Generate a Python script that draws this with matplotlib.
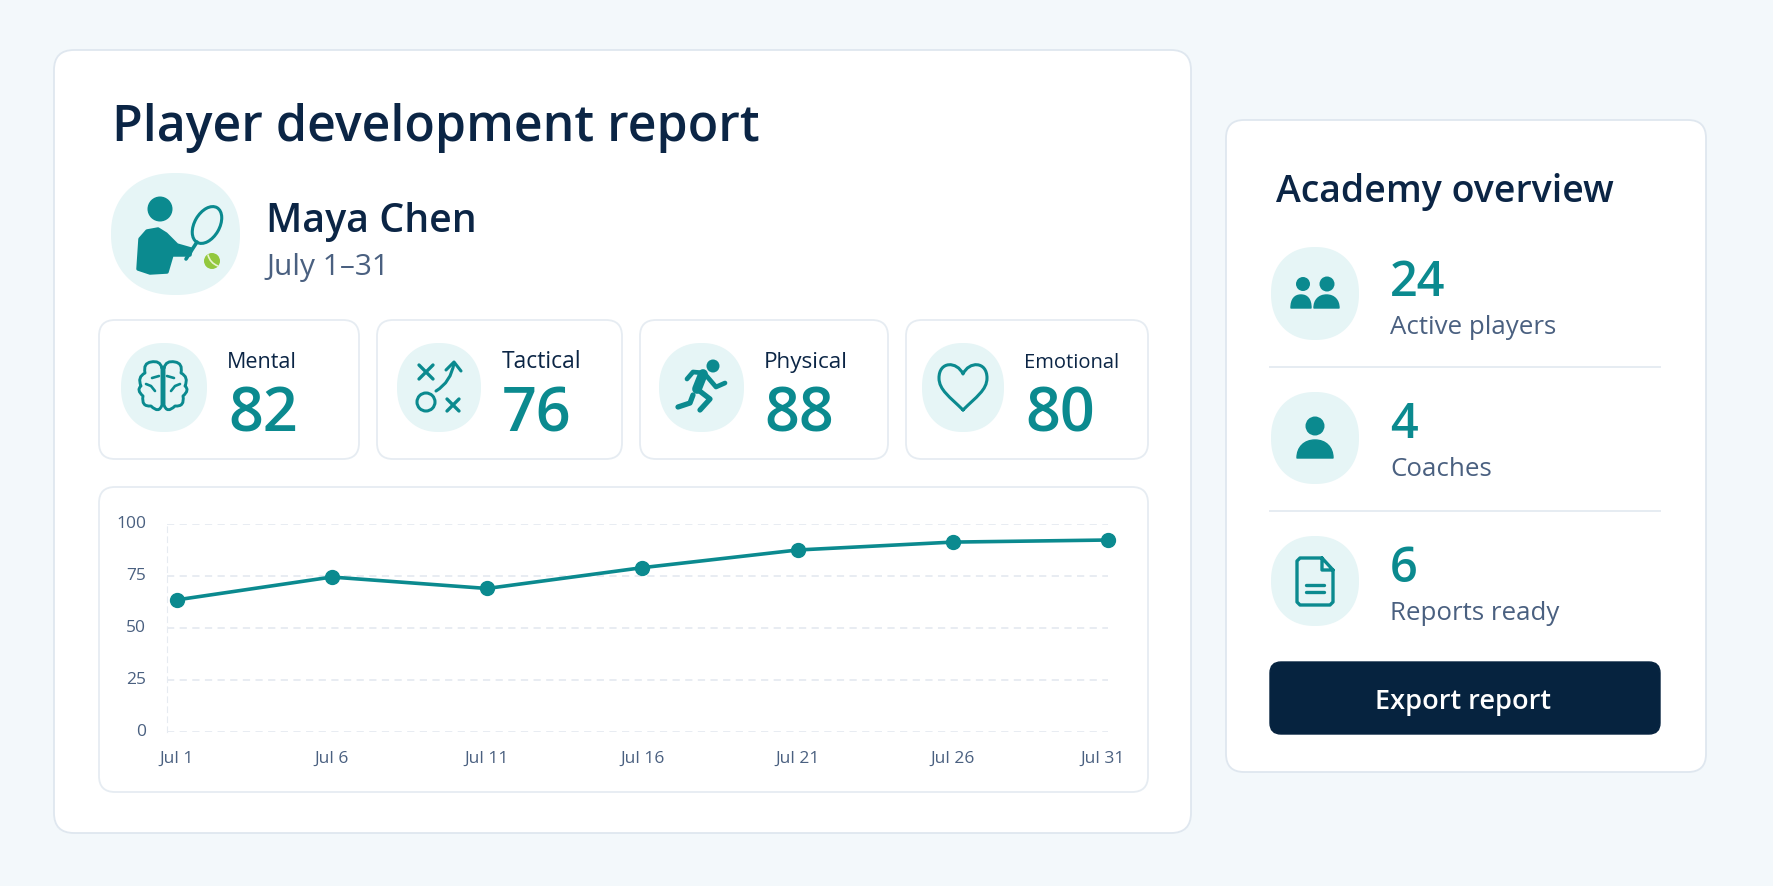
# player development report card, drawn in pixel coords on a backdrop axes
import numpy as np
import matplotlib
matplotlib.use('Agg')
import matplotlib.pyplot as plt
from matplotlib.patches import FancyBboxPatch, Circle, Ellipse, Polygon, PathPatch
from matplotlib.path import Path
from matplotlib.transforms import ScaledTranslation

plt.rcParams['font.family'] = ['Open Sans', 'DejaVu Sans']

# data
days = [1, 6, 11, 16, 21, 26, 31]
day_labels = ['Jul 1', 'Jul 6', 'Jul 11', 'Jul 16', 'Jul 21', 'Jul 26', 'Jul 31']
scores = [63.5, 74.5, 69, 79, 87.5, 91.3, 92.3]
y_ticks = [0, 25, 50, 75, 100]
skill_names = ['Mental', 'Tactical', 'Physical', 'Emotional']
skill_scores = [82, 76, 88, 80]
overview_values = [24, 4, 6]
overview_names = ['Active players', 'Coaches', 'Reports ready']

W, H = 1774, 887
BG = '#f3f8fb'
BORDER = '#dfe7ef'
INNER = '#e6ecf2'
TEAL = '#0b8a8f'
NAVY = '#0b2545'
SLATE = '#4a6080'
BLOB = '#e6f5f6'

fig = plt.figure(figsize=(W / 100, H / 100), dpi=100, facecolor=BG)
bg = fig.add_axes([0, 0, 1, 1])
bg.set_xlim(0, W)
bg.set_ylim(H, 0)
bg.axis('off')


def card(x0, y0, x1, y1, r, fc='white', ec=INNER, lw=1.3):
    bg.add_patch(FancyBboxPatch((x0, y0), x1 - x0, y1 - y0, boxstyle='round,pad=0,rounding_size=%d' % r,
                                fc=fc, ec=ec, lw=lw))


def blob(x0, y0, x1, y1):
    # squircle behind the icons
    t = np.linspace(0, 2 * np.pi, 200)
    cx, cy = (x0 + x1) / 2, (y0 + y1) / 2
    xs = cx + (x1 - x0) / 2 * np.sign(np.cos(t)) * np.abs(np.cos(t)) ** (2 / 2.2)
    ys = cy + (y1 - y0) / 2 * np.sign(np.sin(t)) * np.abs(np.sin(t)) ** (2 / 2.2)
    bg.add_patch(Polygon(np.column_stack([xs, ys]), fc=BLOB, ec='none'))


def stroke(pts, lw=2.0, color=TEAL):
    xs, ys = zip(*pts)
    bg.plot(xs, ys, color=color, lw=lw, solid_capstyle='round', solid_joinstyle='round')


def curve(verts, codes, lw=2.0, fc='none', ec=TEAL):
    bg.add_patch(PathPatch(Path(verts, codes), fc=fc, ec=ec, lw=lw, capstyle='round', joinstyle='round'))


def dome(x0, x1, top, bot):
    k = 0.2 * (x1 - x0)
    v = [(x0, bot), (x0, top + k), (x0 + k, top), ((x0 + x1) / 2, top), (x1 - k, top), (x1, top + k), (x1, bot), (x0, bot)]
    c = [Path.MOVETO] + [Path.CURVE4] * 6 + [Path.CLOSEPOLY]
    curve(v, c, lw=1, fc=TEAL)


def label(x, y, s, size, color=NAVY, weight='normal', ha='left'):
    bg.text(x, y, s, fontsize=size, color=color, fontweight=weight, ha=ha, va='baseline')


def brain(cx, cy):
    right = [(1, -19), (3, -27), (12, -25), (20, -24), (18, -14), (26, -10), (22, -1),
             (27, 3), (20, 9), (22, 20), (12, 19), (4, 27), (1, 18), (1, 0), (1, -19)]
    for sgn in (1, -1):
        v = [(cx + sgn * a, cy + b) for a, b in right]
        c = [Path.MOVETO] + [Path.CURVE3] * 14
        curve(v, c, lw=2.1)
        stroke([(cx + sgn * 4, cy - 11), (cx + sgn * 11, cy - 9)], 1.9)
        stroke([(cx + sgn * 8, cy + 4), (cx + sgn * 12, cy - 1), (cx + sgn * 17, cy - 3)], 1.9)


def tactics():
    for mx, my, h in [(426, 373, 7), (453, 406, 6)]:
        stroke([(mx - h, my - h), (mx + h, my + h)], 2.4)
        stroke([(mx - h, my + h), (mx + h, my - h)], 2.4)
    bg.add_patch(Circle((426, 403), 9, fc='none', ec=TEAL, lw=2.2))
    curve([(436, 392), (451, 383), (454, 364)], [Path.MOVETO, Path.CURVE3, Path.CURVE3], lw=2.2)
    stroke([(446, 371), (454, 363), (461, 372)], 2.2)


def runner():
    bg.add_patch(Circle((713, 367), 6.5, fc=TEAL, ec='none'))
    stroke([(703, 375), (697, 390)], 7.0)
    stroke([(687, 380), (693, 373), (704, 374), (716, 388), (725, 384)], 3.4)
    stroke([(697, 390), (710, 400), (700, 411)], 3.8)
    stroke([(693, 396), (690, 404), (678, 408)], 3.8)


def heart(cx):
    v = [(cx, 411), (cx - 13, 398), (cx - 24, 391), (cx - 24, 379), (cx - 24, 362), (cx - 6, 362), (cx, 375),
         (cx + 6, 362), (cx + 24, 362), (cx + 24, 379), (cx + 24, 391), (cx + 13, 398), (cx, 411)]
    c = [Path.MOVETO] + [Path.CURVE4] * 12
    curve(v, c, lw=2.2)


# outer cards
card(54, 51, 1191, 834, 20, ec=BORDER)
card(1226, 121, 1706, 773, 18, ec=BORDER)

label(112, 141, 'Player development report', 36, weight=600)

# avatar with racket
blob(111, 174, 240, 296)
bg.add_patch(Circle((160, 210), 12.5, fc=TEAL, ec='none'))
bg.add_patch(Polygon([(138, 270), (140, 240), (147, 232), (158, 230), (166, 235), (177, 246), (191, 250), (190, 256),
                      (172, 256), (167, 273), (150, 274)], fc=TEAL, ec=TEAL, lw=2.5, closed=True, joinstyle='round'))
bg.add_patch(Ellipse((207, 226), 25, 40, angle=30, fc='none', ec=TEAL, lw=2.2))
stroke([(197, 243), (186, 260)], 2.6)
bg.add_patch(Circle((212, 262), 8, fc='#93c83e', ec='none'))
curve([(208, 256), (210, 264), (218, 267)], [Path.MOVETO, Path.CURVE3, Path.CURVE3], lw=1.2, ec='#e8f4d0')
label(266, 232, 'Maya Chen', 28.3, weight=600)
label(266, 275, 'July 1–31', 21.5, color=SLATE)

# stat cards
cards_x = [(99, 359), (377, 622), (640, 888), (906, 1148)]
blobs_x = [(121, 207), (397, 481), (659, 744), (922, 1004)]
names_x = [227, 502, 764, 1024]
name_sizes = [15.5, 16.5, 16.2, 14.5]
nums_x = [228, 502, 764, 1025]
for i in range(4):
    card(cards_x[i][0], 321, cards_x[i][1], 460, 16)
    blob(blobs_x[i][0], 344, blobs_x[i][1], 433)
    label(names_x[i], 368, skill_names[i], name_sizes[i])
    label(nums_x[i], 432, str(skill_scores[i]), 44, color=TEAL, weight=600)
brain(163, 388)
tactics()
runner()
heart(963)

# chart card
card(99, 488, 1148, 793, 16)
L, R, T, B = 167, 1108, 525, 733
ax = fig.add_axes([L / W, 1 - B / H, (R - L) / W, (B - T) / H])
ax.patch.set_alpha(0)
ax.set_xlim(1 - 9.5 / ((R - 176.5) / 30), 31)
ax.set_ylim(0, 100)
for s in ['top', 'right', 'bottom']:
    ax.spines[s].set_visible(False)
ax.spines['left'].set_color('#e6ebf1')
ax.spines['left'].set_linestyle((0, (5, 4)))
ax.set_yticks(y_ticks)
ax.set_xticks(days)
ax.set_xticklabels(day_labels)
ax.tick_params(length=0, labelsize=12.5, labelcolor=SLATE)
ax.tick_params(axis='x', pad=12.5)
ax.tick_params(axis='y', pad=15)
ax.grid(axis='y', color='#e6ebf1', lw=1.3, linestyle=(0, (4, 3)))
ax.set_axisbelow(True)
ax.plot(days, scores, color=TEAL, lw=2.6, marker='o', ms=10, clip_on=False)
# last date label sits a bit to the left in the original, y labels a bit higher
last = ax.get_xticklabels()[-1]
last.set_transform(last.get_transform() + ScaledTranslation(-5 / 100, 0, fig.dpi_scale_trans))
for lab in ax.get_yticklabels():
    lab.set_transform(lab.get_transform() + ScaledTranslation(0, 3 / 100, fig.dpi_scale_trans))

# academy overview
label(1276, 202, 'Academy overview', 27, weight=600)
blob_y = [(248, 341), (393, 485), (537, 627)]
val_y = [296, 438, 582]
name_y = [334, 476, 620]
for i in range(3):
    blob(1271, blob_y[i][0], 1359, blob_y[i][1])
    label(1390, val_y[i], str(overview_values[i]), 35, color=TEAL, weight=600)
    label(1390, name_y[i], overview_names[i], 18.6, color=SLATE)
for y in (368, 512):
    bg.plot([1270, 1660], [y, y], color=INNER, lw=1.4)

# group icon
bg.add_patch(Circle((1303, 285), 7, fc=TEAL, ec='none'))
bg.add_patch(Circle((1327, 285), 7.5, fc=TEAL, ec='none'))
dome(1291, 1311, 296, 309)
dome(1314, 1339, 296, 309)
# coach icon
bg.add_patch(Circle((1315, 427), 9.5, fc=TEAL, ec='none'))
dome(1297, 1333, 441, 459)
# report icon
stroke([(1322, 559), (1300, 559), (1297, 562), (1297, 603), (1300, 606), (1330, 606), (1333, 603), (1333, 571),
        (1322, 559), (1322, 571), (1333, 571)], 2.4)
stroke([(1306, 586), (1324, 586)], 2.4)
stroke([(1306, 593), (1324, 593)], 2.4)

# export button
card(1270, 663, 1660, 735, 11, fc='#06233f', ec='#06233f', lw=1)
label(1463, 709, 'Export report', 19.5, color='white', weight=600, ha='center')

fig.savefig('out.png', dpi=100, facecolor=BG)
